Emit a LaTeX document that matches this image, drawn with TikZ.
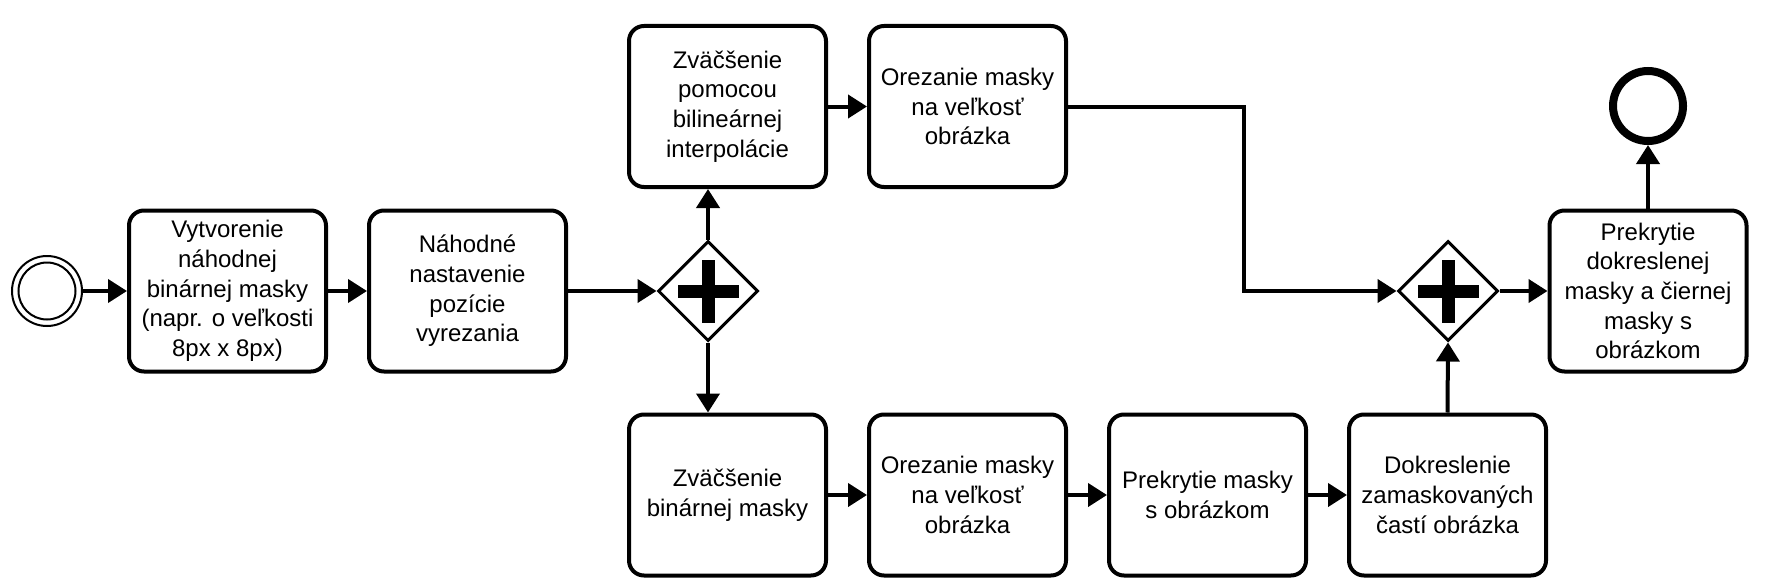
\documentclass[tikz,border=0pt]{standalone}
\usepackage{fontspec}
\setmainfont{Liberation Sans}
\usetikzlibrary{arrows.meta,shapes.geometric}
\begin{document}
\begin{tikzpicture}[x=1pt,y=1pt,
  task/.style={draw, line width=4pt, rounded corners=15pt, rectangle,
    minimum width=197pt, minimum height=161pt, inner sep=0pt, align=center,
    font=\fontsize{24}{29.7}\selectfont},
  gate/.style={draw, line width=3pt, diamond, aspect=1, minimum width=100pt,
    minimum height=100pt, inner sep=0pt},
  flow/.style={line width=4pt, -{Triangle[length=19pt,width=23pt]}}
]
\useasboundingbox (0,0) rectangle (1766,-586);
% events
\node[circle, draw, line width=2pt, minimum size=70pt, inner sep=0pt] (start) at (47,-291) {};
\draw[line width=2pt] (start.center) circle (28.5pt);
\node[circle, draw, line width=8pt, minimum size=70pt, inner sep=0pt] (end) at (1648,-106) {};
% tasks
\node[task] (t1) at (227.5,-291) {Vytvorenie\\náhodnej\\binárnej masky\\(napr. o veľkosti\\8px x 8px)};
\node[task] (t2) at (467.5,-291) {Náhodné\\nastavenie\\pozície\\vyrezania};
\node[task] (ta) at (727.5,-106.5) {Zväčšenie\\pomocou\\bilineárnej\\interpolácie};
\node[task] (tb) at (967.5,-106.5) {Orezanie masky\\na veľkosť\\obrázka};
\node[task] (tc) at (727.5,-495) {Zväčšenie\\binárnej masky};
\node[task] (td) at (967.5,-495) {Orezanie masky\\na veľkosť\\obrázka};
\node[task] (te) at (1207.5,-495) {Prekrytie masky\\s obrázkom};
\node[task] (tf) at (1447.5,-495) {Dokreslenie\\zamaskovaných\\častí obrázka};
\node[task] (tg) at (1648,-291) {Prekrytie\\dokreslenej\\masky a čiernej\\masky s\\obrázkom};
% gateways
\node[gate] (g1) at (708,-291) {};
\node[gate] (g2) at (1448,-291) {};
\foreach \g in {g1,g2}{
  \fill ([shift={(-30.5,-6.5)}]\g.center) rectangle ++(61,13);
  \fill ([shift={(-6.5,-31.5)}]\g.center) rectangle ++(13,63);
}
\coordinate (bend1) at (1244,-106.5);
\coordinate (bend2) at (1244,-291);
% flows
\draw[flow] (start.east) -- (t1.west);
\draw[flow] (t1.east) -- (t2.west);
\draw[flow] (t2.east) -- (g1.west);
\draw[flow] (g1.north) -- (g1.north |- ta.south);
\draw[flow] (g1.south) -- (g1.south |- tc.north);
\draw[flow] (ta.east) -- (tb.west);
\draw[flow] (tb.east) -- (bend1) -- (bend2) -- (g2.west);
\draw[flow] (tc.east) -- (td.west);
\draw[flow] (td.east) -- (te.west);
\draw[flow] (te.east) -- (tf.west);
\draw[flow] (tf.north) -- (g2.south);
\draw[flow] (g2.east) -- (tg.west);
\draw[flow] (tg.north) -- (end.south);
\end{tikzpicture}
\end{document}
